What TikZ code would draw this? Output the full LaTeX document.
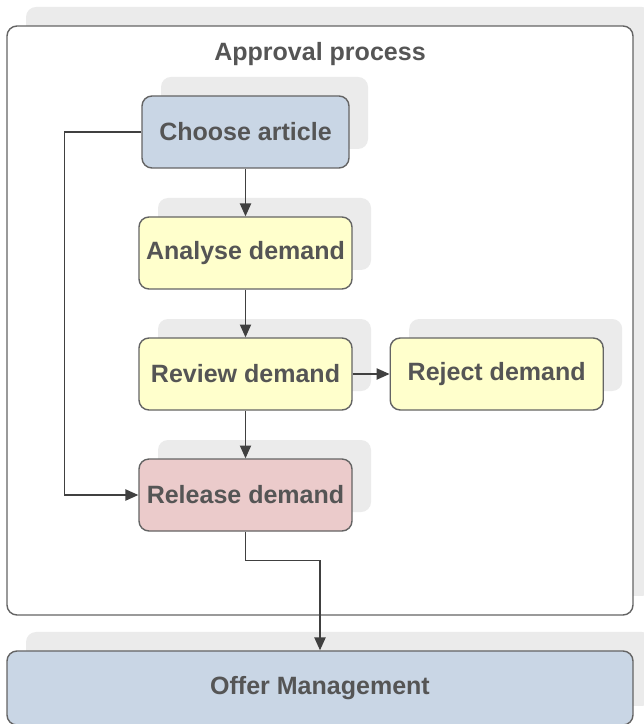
\documentclass[tikz,border=0pt]{standalone}
\usepackage{fontspec}
\setmainfont{Liberation Sans}
\usepackage{tikz}
\usetikzlibrary{arrows.meta,positioning,shadows}

\definecolor{boxline}{HTML}{646464}
\definecolor{lineblack}{HTML}{404040}
\definecolor{textgrey}{HTML}{555555}
\definecolor{shadowgrey}{HTML}{EBEBEB}
\definecolor{stepblue}{HTML}{C9D6E5}
\definecolor{stepyellow}{HTML}{FFFFCC}
\definecolor{steppink}{HTML}{EBCBCB}

\begin{document}
\begin{tikzpicture}[
        font=\fontsize{17.8}{21}\selectfont\bfseries,
        text=textgrey,
        node distance=1.19cm and 0.92cm,
        boxshadow/.style={drop shadow={shadow xshift=0.475cm,shadow yshift=0.475cm,fill=shadowgrey,opacity=1}},
        stepbox/.style={draw=boxline,line width=1pt,rounded corners=0.25cm,minimum width=5.325cm,minimum height=1.8cm,boxshadow},
        container/.style={draw=boxline,line width=1pt,rounded corners=0.25cm,fill=white,boxshadow},
        flow/.style={draw=lineblack,line width=0.9pt,-{Triangle[length=0.32cm,width=0.28cm]}}]
        \useasboundingbox (0,0) rectangle (16.075,18.1);
        \node[container,minimum width=15.65cm,minimum height=14.725cm] (approval) at (8,10.0875) {};
        \node (title) at (8,16.75) {Approval process};
        \node[stepbox,fill=stepblue,minimum width=5.175cm] (choose) at (6.1375,14.8) {Choose article};
        \node[stepbox,fill=stepyellow,below=of choose] (analyse) {Analyse demand};
        \node[stepbox,fill=stepyellow,below=of analyse] (review) {Review demand};
        \node[stepbox,fill=stepyellow,right=of review] (reject) {Reject demand};
        \node[stepbox,fill=steppink,below=of review] (release) {Release demand};
        \node[container,fill=stepblue,minimum width=15.65cm,minimum height=1.85cm] (offer) at (8,0.9) {Offer Management};
        \draw[flow] (choose) -- (analyse);
        \draw[flow] (analyse) -- (review);
        \draw[flow] (review) -- (release);
        \draw[flow] (review) -- (reject);
        \draw[flow] (choose.west) -- ++(-1.925,0) |- (release.west);
        \draw[flow] (release.south) -- ++(0,-0.725) -| (offer.north);
\end{tikzpicture}
\end{document}
